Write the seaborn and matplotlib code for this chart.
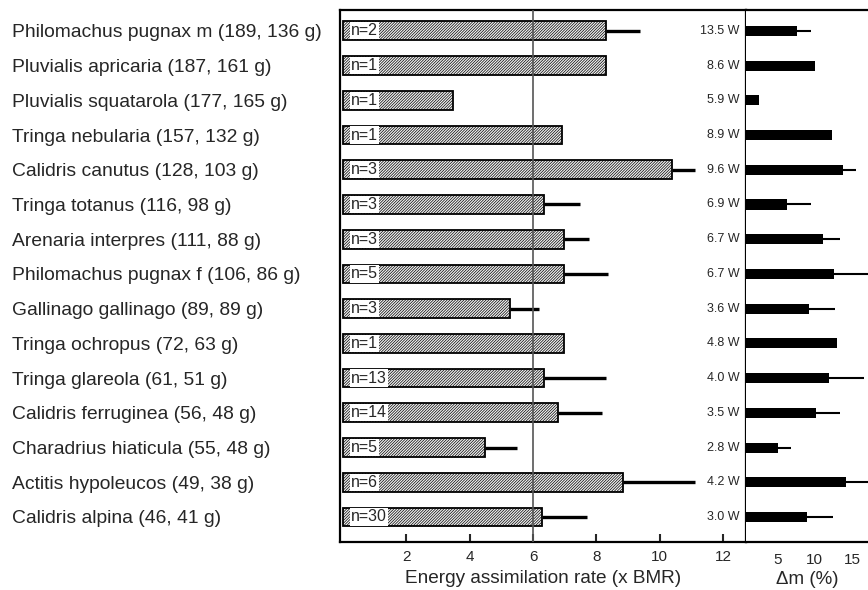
"""Energy assimilation rate and mass gain of 15 wader species (two panels)."""

import numpy as np
import pandas as pd
import matplotlib
matplotlib.use("Agg")
import matplotlib.pyplot as plt
import seaborn as sns

species = [
    "Philomachus pugnax m (189, 136 g)",
    "Pluvialis apricaria (187, 161 g)",
    "Pluvialis squatarola (177, 165 g)",
    "Tringa nebularia (157, 132 g)",
    "Calidris canutus (128, 103 g)",
    "Tringa totanus (116, 98 g)",
    "Arenaria interpres (111, 88 g)",
    "Philomachus pugnax f (106, 86 g)",
    "Gallinago gallinago (89, 89 g)",
    "Tringa ochropus (72, 63 g)",
    "Tringa glareola (61, 51 g)",
    "Calidris ferruginea (56, 48 g)",
    "Charadrius hiaticula (55, 48 g)",
    "Actitis hypoleucos (49, 38 g)",
    "Calidris alpina (46, 41 g)",
]
n_birds = [2, 1, 1, 1, 3, 3, 3, 5, 3, 1, 13, 14, 5, 6, 30]
watts = ["13.5 W", "8.6 W", "5.9 W", "8.9 W", "9.6 W", "6.9 W", "6.7 W", "6.7 W",
         "3.6 W", "4.8 W", "4.0 W", "3.5 W", "2.8 W", "4.2 W", "3.0 W"]

# energy assimilation rate (x BMR) and upper end of the error bar
energy = [8.32, 8.3, 3.48, 6.9, 10.4, 6.35, 6.99, 6.98, 5.27, 6.99, 6.35, 6.8, 4.48, 8.84, 6.28]
energy_hi = [9.38, np.nan, np.nan, np.nan, 11.11, 7.48, 7.78, 8.38, 6.19, np.nan, 8.3, 8.19, 5.48, 11.13, 7.7]

# mass change (%) and upper end of the error bar
dmass = [7.67, 10.04, 2.59, 12.36, 13.83, 6.33, 11.15, 12.63, 9.28, 12.94, 11.96, 10.13, 5.04, 14.15, 9.01]
dmass_hi = [9.5, np.nan, np.nan, np.nan, 15.5, 9.46, 13.43, 17.5, 12.76, np.nan, 16.6, 13.39, 6.83, 17.5, 12.49]

df = pd.DataFrame({"species": species, "energy": energy, "dmass": dmass})

sns.set_theme(style="white")
plt.rcParams["font.family"] = ["Liberation Sans", "DejaVu Sans"]
plt.rcParams["hatch.linewidth"] = 0.5

fig = plt.figure(figsize=(8.68, 5.9), dpi=100)
ax = fig.add_axes([340 / 868, 48 / 590, 406 / 868, 532 / 590])
ax2 = fig.add_axes([746 / 868, 48 / 590, 122 / 868, 532 / 590])

rows = np.arange(len(species))

# left panel: hatched bars
sns.barplot(data=df, x="energy", y="species", order=species, ax=ax, orient="h",
            color="#f2f2f2", edgecolor="black", linewidth=1.3, hatch="/" * 12,
            width=0.54, zorder=2)
err = np.nan_to_num(np.array(energy_hi) - np.array(energy))
ax.errorbar(energy, rows, xerr=[np.zeros(len(rows)), err], fmt="none",
            ecolor="black", elinewidth=2.4, capsize=0, zorder=1)
ax.axvline(6, color="#555555", lw=1.2, zorder=3)

for i, n in enumerate(n_birds):
    ax.text(0.24, i, f"n={n}", va="center", ha="left", fontsize=11.5, zorder=4,
            bbox=dict(facecolor="white", edgecolor="none", pad=0.8))
for i, w in enumerate(watts):
    ax.text(12.53, i, w, va="center", ha="right", fontsize=9)

ax.set_xlim(-0.1, 12.73)
ax.set_ylim(14.72, -0.6)
ax.set_xticks([2, 4, 6, 8, 10, 12])
ax.set_xlabel("Energy assimilation rate (x BMR)", fontsize=13.7, labelpad=4)
ax.set_ylabel("")
ax.tick_params(axis="x", direction="in", length=6, width=1.5, labelsize=11, pad=6, bottom=True)
ax.tick_params(axis="y", length=0, labelsize=13.85, pad=236)
for lab in ax.get_yticklabels():
    lab.set_horizontalalignment("left")
for sp in ax.spines.values():
    sp.set_linewidth(1.6)
    sp.set_color("black")

# right panel: mass gain
sns.barplot(data=df, x="dmass", y="species", order=species, ax=ax2, orient="h",
            color="black", edgecolor="black", linewidth=0, width=0.29, zorder=2)
err2 = np.nan_to_num(np.array(dmass_hi) - np.array(dmass))
ax2.errorbar(dmass, rows, xerr=[np.zeros(len(rows)), err2], fmt="none",
             ecolor="black", elinewidth=1.5, capsize=0, zorder=1)
ax2.set_xlim(0.8, 17.13)
ax2.set_ylim(14.72, -0.6)
ax2.set_xticks([5, 10, 15])
ax2.set_yticks([])
ax2.set_xlabel("\u0394m (%)", fontsize=13.5, labelpad=3)
ax2.set_ylabel("")
ax2.tick_params(axis="x", length=0, labelsize=11, pad=8)
ax2.spines["right"].set_visible(False)
ax2.spines["left"].set_visible(False)
for sp in ["top", "bottom"]:
    ax2.spines[sp].set_linewidth(1.6)
    ax2.spines[sp].set_color("black")

fig.savefig("out.png", dpi=100)
